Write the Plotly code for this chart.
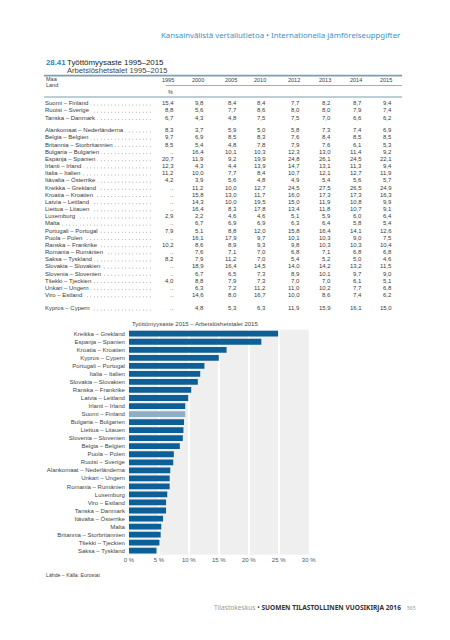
import plotly.graph_objects as go

W, H = 450, 640

# ---------------- data ----------------
years = ["1995", "2000", "2005", "2010", "2012", "2013", "2014", "2015"]

nordic = ["Suomi – Finland", "Ruotsi – Sverige", "Tanska – Danmark"]
nordic_vals = [
    [15.4, 9.8, 8.4, 8.4, 7.7, 8.2, 8.7, 9.4],
    [8.8, 5.6, 7.7, 8.6, 8.0, 8.0, 7.9, 7.4],
    [6.7, 4.3, 4.8, 7.5, 7.5, 7.0, 6.6, 6.2],
]

eu = [
    "Alankomaat – Nederländerna", "Belgia – Belgien", "Britannia – Storbritannien",
    "Bulgaria – Bulgarien", "Espanja – Spanien", "Irlanti – Irland", "Italia – Italien",
    "Itävalta – Österrike", "Kreikka – Grekland", "Kroatia – Kroatien", "Latvia – Lettland",
    "Liettua – Litauen", "Luxemburg", "Malta", "Portugali – Portugal", "Puola – Polen",
    "Ranska – Frankrike", "Romania – Rumänien", "Saksa – Tyskland", "Slovakia – Slovakien",
    "Slovenia – Slovenien", "Tšekki – Tjeckien", "Unkari – Ungern", "Viro – Estland",
]
eu_vals = [
    [8.3, 3.7, 5.9, 5.0, 5.8, 7.3, 7.4, 6.9],
    [9.7, 6.9, 8.5, 8.3, 7.6, 8.4, 8.5, 8.5],
    [8.5, 5.4, 4.8, 7.8, 7.9, 7.6, 6.1, 5.3],
    [None, 16.4, 10.1, 10.3, 12.3, 13.0, 11.4, 9.2],
    [20.7, 11.9, 9.2, 19.9, 24.8, 26.1, 24.5, 22.1],
    [12.3, 4.3, 4.4, 13.9, 14.7, 13.1, 11.3, 9.4],
    [11.2, 10.0, 7.7, 8.4, 10.7, 12.1, 12.7, 11.9],
    [4.2, 3.9, 5.6, 4.8, 4.9, 5.4, 5.6, 5.7],
    [None, 11.2, 10.0, 12.7, 24.5, 27.5, 26.5, 24.9],
    [None, 15.8, 13.0, 11.7, 16.0, 17.3, 17.3, 16.3],
    [None, 14.3, 10.0, 19.5, 15.0, 11.9, 10.8, 9.9],
    [None, 16.4, 8.3, 17.8, 13.4, 11.8, 10.7, 9.1],
    [2.9, 2.2, 4.6, 4.6, 5.1, 5.9, 6.0, 6.4],
    [None, 6.7, 6.9, 6.9, 6.3, 6.4, 5.8, 5.4],
    [7.9, 5.1, 8.8, 12.0, 15.8, 16.4, 14.1, 12.6],
    [None, 16.1, 17.9, 9.7, 10.1, 10.3, 9.0, 7.5],
    [10.2, 8.6, 8.9, 9.3, 9.8, 10.3, 10.3, 10.4],
    [None, 7.6, 7.1, 7.0, 6.8, 7.1, 6.8, 6.8],
    [8.2, 7.9, 11.2, 7.0, 5.4, 5.2, 5.0, 4.6],
    [None, 18.9, 16.4, 14.5, 14.0, 14.2, 13.2, 11.5],
    [None, 6.7, 6.5, 7.3, 8.9, 10.1, 9.7, 9.0],
    [4.0, 8.8, 7.9, 7.3, 7.0, 7.0, 6.1, 5.1],
    [None, 6.3, 7.2, 11.2, 11.0, 10.2, 7.7, 6.8],
    [None, 14.6, 8.0, 16.7, 10.0, 8.6, 7.4, 6.2],
]

other = ["Kypros – Cypern"]
other_vals = [[None, 4.8, 5.3, 6.3, 11.9, 15.9, 16.1, 15.0]]

bar_order = [
    "Kreikka – Grekland", "Espanja – Spanien", "Kroatia – Kroatien", "Kypros – Cypern",
    "Portugali – Portugal", "Italia – Italien", "Slovakia – Slovakien", "Ranska – Frankrike",
    "Latvia – Lettland", "Irlanti – Irland", "Suomi – Finland", "Bulgaria – Bulgarien",
    "Liettua – Litauen", "Slovenia – Slovenien", "Belgia – Belgien", "Puola – Polen",
    "Ruotsi – Sverige", "Alankomaat – Nederländerna", "Unkari – Ungern", "Romania – Rumänien",
    "Luxemburg", "Viro – Estland", "Tanska – Danmark", "Itävalta – Österrike", "Malta",
    "Britannia – Storbritannien", "Tšekki – Tjeckien", "Saksa – Tyskland",
]
x_ticks = [0, 5, 10, 15, 20, 25, 30]
x_ticktext = ["0 %", "5 %", "10 %", "15 %", "20 %", "25 %", "30 %"]
highlight = "Suomi – Finland"

# ---------------- helpers ----------------
def px(x):
    return x / W

def py(y):
    return 1 - y / H

def fmt(v):
    return ".." if v is None else f"{v:.1f}".replace(".", ",")

NARROW = "Liberation Sans Narrow, Liberation Sans, Arial, sans-serif"
TXT = "#3a3a3a"
BLUE = "#0d5f97"
LIGHT = "#8eaec6"

annotations = []
shapes = []

def ann(x, y, text, size=6, color=TXT, xanchor="left", family=NARROW, bg=None):
    d = dict(x=px(x), y=py(y), xref="paper", yref="paper", text=text, showarrow=False,
             xanchor=xanchor, yanchor="middle", font=dict(size=size, color=color, family=family))
    if bg:
        d["bgcolor"] = bg
        d["borderpad"] = 0
    annotations.append(d)

def hline(x0, x1, y, color, width):
    shapes.append(dict(type="line", xref="paper", yref="paper", x0=px(x0), x1=px(x1),
                       y0=py(y), y1=py(y), line=dict(color=color, width=width)))

# ---------------- page header ----------------
ann(409, 35, "Kansainvälistä vertailutietoa • Internationella jämförelseuppgifter",
    size=7.8, color="#3d93c0", xanchor="right", family="Noto Sans, sans-serif")
ann(40, 62, "<b>28.41</b>", size=7.8, color="#2f86b8", family="Liberation Sans, sans-serif")
ann(62, 62, "Työttömyysaste 1995–2015", size=7.9, color="#222", family="Liberation Sans, sans-serif")
ann(62, 70.5, "Arbetslöshetstalet 1995–2015", size=7.6, color="#444", family="Liberation Sans, sans-serif")

# ---------------- table ----------------
hline(40, 408, 75.6, "#7f9db0", 1.6)
hline(165, 408, 85.5, "#7f9db0", 0.8)
hline(40, 408, 97, "#7f9db0", 1.1)

ann(40, 79, "Maa", size=5.5)
ann(40, 85, "Land", size=5.5)
col_right = [176, 207, 240.5, 270.5, 305, 336.5, 369, 400]
for yr, xr in zip(years, col_right):
    ann(xr, 80, yr, size=5.5, xanchor="right")
ann(165, 92, "%", size=5.5)

rows = []
for i, (n, v) in enumerate(zip(nordic, nordic_vals)):
    rows.append((n, v, 103.3 + i * 7.2))
for i, (n, v) in enumerate(zip(eu, eu_vals)):
    rows.append((n, v, 130.3 + i * 7.16))
for i, (n, v) in enumerate(zip(other, other_vals)):
    rows.append((n, v, 308.3 + i * 7.16))

for name, vals, y in rows:
    # dot leader
    shapes.append(dict(type="line", xref="paper", yref="paper", x0=px(41), x1=px(152),
                       y0=py(y + 1.8), y1=py(y + 1.8),
                       line=dict(color="#666", width=0.7, dash="0.7px,2.8px")))
    ann(40, y, name + " ", size=6, bg="white")
    for v, xr in zip(vals, col_right):
        ann(xr, y, fmt(v), size=6, xanchor="right")

# ---------------- bar chart ----------------
lookup = {}
for n, v in zip(nordic + eu + other, nordic_vals + eu_vals + other_vals):
    lookup[n] = v[-1]
bar_vals = [lookup[c] for c in bar_order]
bar_colors = [LIGHT if c == highlight else BLUE for c in bar_order]

ann(128, 324.3, "Työttömyysaste 2015 – Arbetslöshetstalet 2015", size=6, color="#444",
    family="Liberation Sans, sans-serif")

fig = go.Figure(go.Bar(
    x=bar_vals, y=bar_order, orientation="h",
    marker=dict(color=bar_colors, line=dict(width=0)), width=0.72,
    hoverinfo="x+y",
))

bar_top, bar_bottom = 329.7, 554.7
fig.update_layout(
    width=W, height=H, autosize=False,
    margin=dict(l=0, r=0, t=0, b=0),
    paper_bgcolor="white", plot_bgcolor="#efefef",
    showlegend=False,
    annotations=annotations, shapes=shapes,
    xaxis=dict(domain=[px(127.3), px(312)], range=[0, 30], tickvals=x_ticks, ticktext=x_ticktext,
               showgrid=True, gridcolor="white", gridwidth=1.5, zeroline=False, showline=False,
               ticks="", tickfont=dict(size=6, color="#555", family="Liberation Sans, sans-serif"),
               fixedrange=True),
    yaxis=dict(domain=[py(bar_bottom), py(bar_top)], autorange="reversed", showgrid=False,
               ticks="", ticklabelstandoff=3, showline=False, zeroline=False,
               tickfont=dict(size=6, color="#444", family="Liberation Sans, sans-serif"),
               fixedrange=True),
)

ann(40, 575, "Lähde – Källa: Eurostat", size=5.2, color="#444", family="Liberation Sans, sans-serif")
ann(409, 607.7, "<span style='color:#9a9a9a'>Tilastokeskus</span> • <b>SUOMEN TILASTOLLINEN VUOSIKIRJA 2016</b>",
    size=6.6, color="#333", xanchor="right", family="Noto Sans, sans-serif")
ann(424, 607.7, "565", size=5, color="#999", xanchor="right", family="Noto Sans, sans-serif")
fig.update_layout(annotations=annotations)

fig.write_html("out.html", config={"displayModeBar": False},
               post_script="document.body.style.margin='0';document.body.style.overflow='hidden';")
